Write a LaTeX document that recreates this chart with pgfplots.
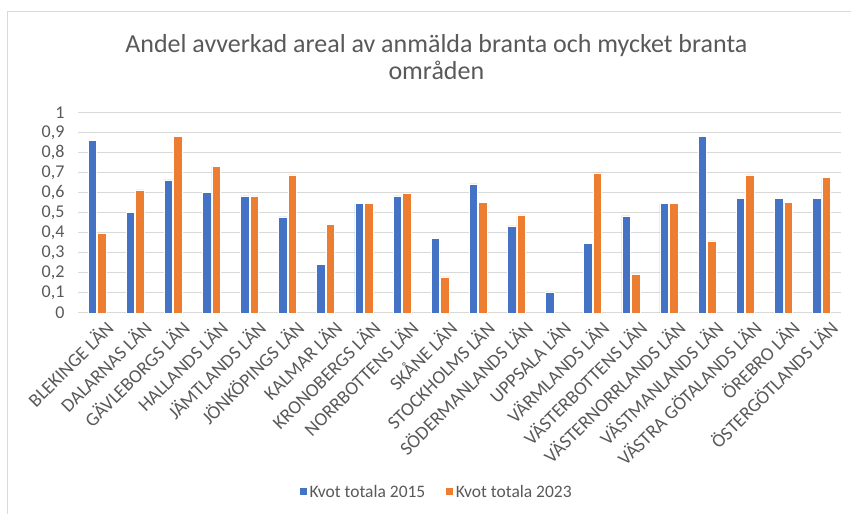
\documentclass[border=0pt]{standalone}
\usepackage{fontspec}
\setmainfont{Carlito}
\usepackage{pgfplots}
\pgfplotsset{compat=1.18}

\definecolor{xblue}{HTML}{4472C4}
\definecolor{xorange}{HTML}{ED7D31}
\definecolor{txt}{HTML}{595959}
\definecolor{gridc}{HTML}{D9D9D9}

\begin{document}
\begin{tikzpicture}
\begin{axis}[
    scale only axis,
    width=763pt, height=200pt,
    ybar=1pt, bar width=8.5pt,
    xmin=-0.5, xmax=19.5,
    ymin=0, ymax=1,
    ytick={0,0.1,...,1.01},
    xtick={0,...,19},
    xticklabels={BLEKINGE LÄN, DALARNAS LÄN, GÄVLEBORGS LÄN, HALLANDS LÄN, JÄMTLANDS LÄN,
        JÖNKÖPINGS LÄN, KALMAR LÄN, KRONOBERGS LÄN, NORRBOTTENS LÄN, SKÅNE LÄN,
        STOCKHOLMS LÄN, SÖDERMANLANDS LÄN, UPPSALA LÄN, VÄRMLANDS LÄN, VÄSTERBOTTENS LÄN,
        VÄSTERNORRLANDS LÄN, VÄSTMANLANDS LÄN, VÄSTRA GÖTALANDS LÄN, ÖREBRO LÄN, ÖSTERGÖTLANDS LÄN},
    x tick label style={rotate=45, anchor=north east, font=\fontsize{19}{20}\selectfont, text=txt, inner sep=1pt, yshift=-8pt, xshift=2pt},
    y tick label style={font=\fontsize{18}{20}\selectfont, text=txt, xshift=-10pt},
    yticklabel style={/pgf/number format/.cd, use comma, fixed, assume math mode=true},
    major tick length=0pt,
    ymajorgrids, major grid style={gridc, line width=1pt},
    axis line style={draw=none},
    title={Andel avverkad areal av anmälda branta och mycket branta\\områden},
    title style={at={(0.47,1.2475)}, anchor=center, align=center, text=txt,
        font=\fontsize{26}{27}\selectfont},
    legend style={at={(0.47,-0.895)}, anchor=center, draw=none, legend columns=-1,
        font=\fontsize{17.5}{18}\selectfont, text=txt,
        /tikz/every even column/.append style={column sep=18pt}},
    legend image code/.code={\fill[#1] (0pt,-4pt) rectangle (8pt,4pt);},
]
\addplot[fill=xblue, draw=white, line width=0.6pt] coordinates {
    (0,0.863) (1,0.503) (2,0.665) (3,0.603) (4,0.585) (5,0.480) (6,0.243)
    (7,0.547) (8,0.585) (9,0.373) (10,0.645) (11,0.435) (12,0.105) (13,0.348)
    (14,0.485) (15,0.547) (16,0.883) (17,0.572) (18,0.572) (19,0.572)};
\addplot[fill=xorange, draw=white, line width=0.6pt] coordinates {
    (0,0.398) (1,0.615) (2,0.883) (3,0.733) (4,0.585) (5,0.690) (6,0.442)
    (7,0.547) (8,0.597) (9,0.180) (10,0.553) (11,0.490) (13,0.700)
    (14,0.195) (15,0.547) (16,0.360) (17,0.690) (18,0.553) (19,0.678)};
\legend{Kvot totala 2015, Kvot totala 2023}
\coordinate (bl) at (rel axis cs:0,0);
\coordinate (tr) at (rel axis cs:1,1);
\end{axis}
\path ([shift={(-78pt,-201pt)}]bl) rectangle ([shift={(10pt,113pt)}]tr);
\draw[gridc, line width=1pt] ([shift={(-70pt,-201pt)}]bl) |- ([shift={(10pt,101pt)}]tr);
\end{tikzpicture}
\end{document}
